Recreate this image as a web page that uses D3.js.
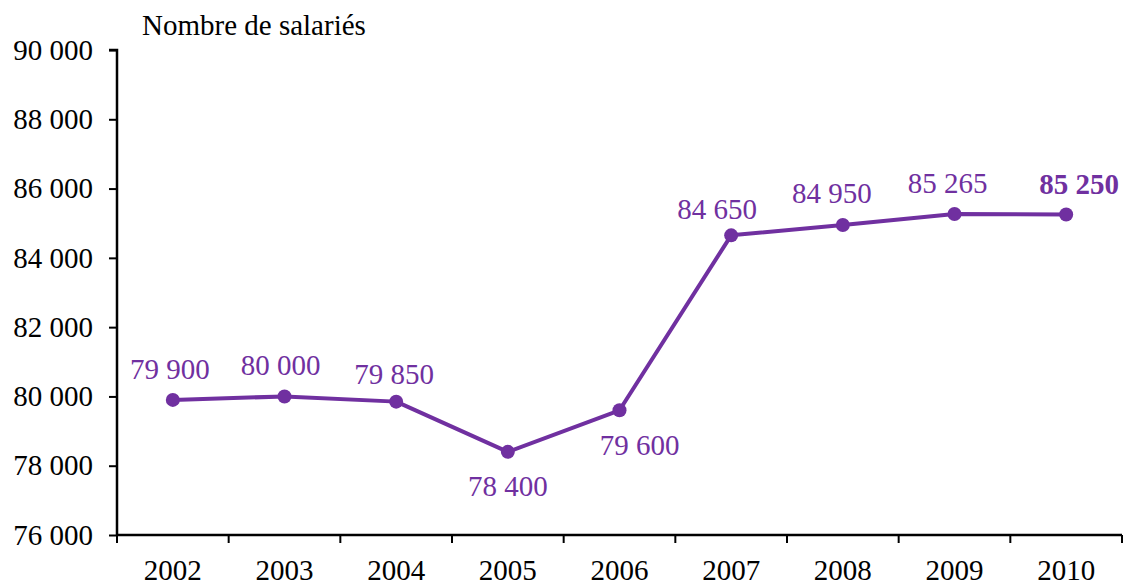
<!DOCTYPE html>
<html>
<head>
<meta charset="utf-8">
<script src="https://cdn.jsdelivr.net/npm/d3@7"></script>
<style>
  html, body { margin: 0; padding: 0; background: #fff; }
  svg { display: block; }
  svg text { font-family: "Liberation Serif", "Times New Roman", serif; }
</style>
</head>
<body>
<svg id="chart" width="1125" height="580"></svg>
<script>
// Employee headcount by year
const years = ["2002", "2003", "2004", "2005", "2006", "2007", "2008", "2009", "2010"];
const salaries = [79900, 80000, 79850, 78400, 79600, 84650, 84950, 85265, 85250];
const yTicks = [76000, 78000, 80000, 82000, 84000, 86000, 88000, 90000];
const yTitle = "Nombre de salariés";

// Label placement relative to each point (dx, dy of baseline)
const labelPlacement = [
  [-3, -21], [-4, -21], [-2, -18], [0, 44], [20, 45],
  [-14, -16], [-11, -22], [-7, -21], [13, -21]
];

const purple = "#7030A0";
const FS = 29;
const serif = "'Liberation Serif', 'Times New Roman', serif";
const svg = d3.select("#chart");

const x = d3.scaleBand().domain(years).range([117, 1122]).paddingInner(0).paddingOuter(0);
const y = d3.scaleLinear().domain([76000, 90000]).range([535, 50]);

const fmt = v => d3.format(",")(v).replace(/,/g, "\u00a0");

// Y axis
const yAxis = svg.append("g")
  .attr("transform", "translate(117,0)")
  .call(d3.axisLeft(y).tickValues(yTicks).tickSize(8).tickPadding(16).tickFormat(fmt))
  .attr("font-family", serif).attr("font-size", FS);
yAxis.selectAll("text").attr("fill", "#000");
yAxis.selectAll("line").attr("stroke", "#000").attr("stroke-width", 2);
yAxis.select(".domain").attr("d", `M-8,${y(90000)}H0V${y(76000)}`).attr("stroke", "#000").attr("stroke-width", 2.5);

// X axis: ticks at band boundaries
const xAxis = svg.append("g").attr("transform", "translate(0,535)");
xAxis.append("line").attr("x1", 117).attr("x2", 1122).attr("y1", 0).attr("y2", 0)
  .attr("stroke", "#000").attr("stroke-width", 2.5);
const bounds = years.map(d => x(d)).concat([x(years[years.length - 1]) + x.bandwidth()]);
xAxis.selectAll("line.tick").data(bounds).join("line")
  .attr("class", "tick")
  .attr("x1", d => d).attr("x2", d => d).attr("y1", 0).attr("y2", 8)
  .attr("stroke", "#000").attr("stroke-width", 2);
xAxis.selectAll("text").data(years).join("text")
  .attr("x", d => x(d) + x.bandwidth() / 2)
  .attr("y", 45)
  .attr("text-anchor", "middle")
  .attr("font-size", FS)
  .attr("fill", "#000")
  .text(d => d);

// Axis title
svg.append("text").attr("x", 142).attr("y", 35).attr("font-size", FS).attr("fill", "#000").text(yTitle);

// Line and points
const cx = (d, i) => x(years[i]) + x.bandwidth() / 2;
const line = d3.line().x((d, i) => cx(d, i)).y(d => y(d));
svg.append("path").datum(salaries)
  .attr("d", line).attr("fill", "none").attr("stroke", purple).attr("stroke-width", 4)
  .attr("stroke-linejoin", "round");
svg.selectAll("circle.pt").data(salaries).join("circle")
  .attr("class", "pt")
  .attr("cx", cx).attr("cy", d => y(d)).attr("r", 7).attr("fill", purple);

// Value labels
svg.selectAll("text.val").data(salaries).join("text")
  .attr("class", "val")
  .attr("x", (d, i) => cx(d, i) + labelPlacement[i][0])
  .attr("y", (d, i) => y(d) + labelPlacement[i][1])
  .attr("text-anchor", "middle")
  .attr("font-size", FS)
  .attr("font-weight", (d, i) => i === salaries.length - 1 ? "bold" : "normal")
  .attr("fill", purple)
  .text(fmt);
</script>
</body>
</html>
